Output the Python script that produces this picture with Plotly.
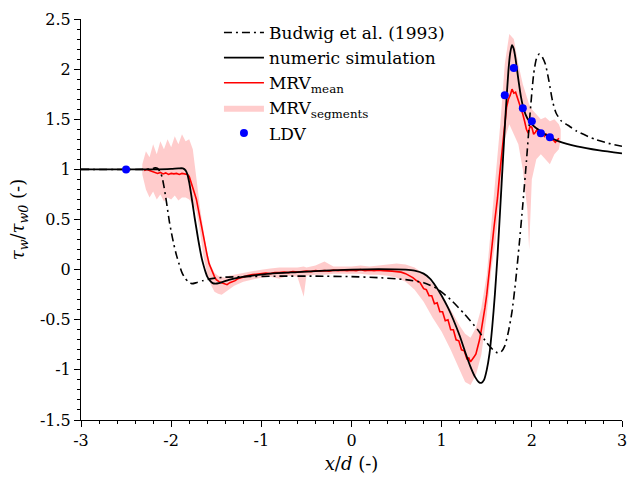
import plotly.graph_objects as go

# ---------------- data ----------------
budwig_x = [-3.0, -2.3, -2.22, -2.18, -2.15, -2.12, -2.10, -2.08, -2.06, -2.04, -2.02, -2.0, -1.97, -1.94,
            -1.91, -1.88, -1.85, -1.81, -1.77, -1.72, -1.65, -1.55, -1.4, -1.2, -0.8, -0.4, 0.0, 0.3, 0.6,
            0.8, 0.95, 1.1, 1.25, 1.4, 1.5, 1.57, 1.62, 1.66, 1.70, 1.74, 1.78, 1.82, 1.86, 1.90, 1.94,
            1.98, 2.02, 2.05, 2.08, 2.11, 2.15, 2.19, 2.23, 2.27, 2.33, 2.4, 2.5, 2.7, 2.85, 3.0]
budwig_y = [1.0, 1.0, 1.005, 1.015, 1.01, 0.97, 0.92, 0.83, 0.72, 0.60, 0.48, 0.38, 0.25, 0.14,
            0.05, -0.03, -0.08, -0.12, -0.14, -0.13, -0.11, -0.09, -0.075, -0.07, -0.065, -0.065, -0.07,
            -0.08, -0.10, -0.13, -0.19, -0.30, -0.44, -0.60, -0.73, -0.80, -0.83, -0.82, -0.76, -0.62,
            -0.42, -0.12, 0.25, 0.65, 1.08, 1.55, 1.95, 2.10, 2.15, 2.13, 2.05, 1.88, 1.68, 1.56, 1.48,
            1.44, 1.38, 1.30, 1.26, 1.23]

sim_x = [-3.0, -2.2, -2.0, -1.92, -1.87, -1.84, -1.82, -1.80, -1.78, -1.76, -1.74, -1.72, -1.70, -1.68,
         -1.66, -1.64, -1.62, -1.60, -1.57, -1.54, -1.51, -1.47, -1.42, -1.35, -1.25, -1.1, -0.9, -0.6,
         -0.3, 0.0, 0.3, 0.6, 0.7, 0.8, 0.87, 0.93, 1.0, 1.07, 1.13, 1.2, 1.26, 1.32, 1.37, 1.41, 1.44,
         1.47, 1.50, 1.53, 1.56, 1.59, 1.62, 1.65, 1.68, 1.71, 1.74, 1.76, 1.78, 1.80, 1.82, 1.85, 1.88,
         1.91, 1.95, 2.0, 2.05, 2.1, 2.2, 2.3, 2.5, 2.75, 3.0]
sim_y = [1.0, 1.0, 1.005, 1.01, 1.01, 0.99, 0.95, 0.87, 0.76, 0.64, 0.52, 0.41, 0.30, 0.20,
         0.11, 0.04, -0.02, -0.07, -0.11, -0.135, -0.14, -0.135, -0.12, -0.10, -0.08, -0.06, -0.04,
         -0.025, -0.01, 0.0, 0.005, 0.0, -0.01, -0.04, -0.09, -0.16, -0.26, -0.38, -0.50, -0.66, -0.82,
         -0.97, -1.07, -1.12, -1.13, -1.10, -1.00, -0.84, -0.58, -0.25, 0.15, 0.62, 1.10, 1.57, 1.98,
         2.16, 2.24, 2.20, 2.10, 1.90, 1.72, 1.60, 1.51, 1.45, 1.41, 1.38, 1.32, 1.28, 1.23, 1.19, 1.16]

mrv_x = [-2.30, -2.27, -2.24, -2.21, -2.18, -2.15, -2.12, -2.09, -2.06, -2.03, -2.00, -1.97, -1.94,
         -1.91, -1.88, -1.85, -1.82, -1.80, -1.78, -1.76, -1.74, -1.72, -1.70, -1.68, -1.66, -1.64,
         -1.62, -1.60, -1.58, -1.56, -1.54, -1.52, -1.50, -1.47, -1.44, -1.41, -1.38, -1.35, -1.32,
         -1.29, -1.26, -1.23, -1.20, -1.15, -1.10, -1.05, -1.00, -0.95, -0.90, -0.85, -0.80, -0.75,
         -0.70, -0.65, -0.60, -0.55, -0.50, -0.45, -0.40, -0.35, -0.30, -0.25, -0.20, -0.15, -0.10,
         -0.05, 0.00, 0.05, 0.10, 0.15, 0.20, 0.25, 0.30, 0.35, 0.40, 0.45, 0.50, 0.55, 0.60, 0.64,
         0.68, 0.72, 0.76, 0.80, 0.83, 0.86, 0.89, 0.92, 0.95, 0.98, 1.01, 1.04, 1.07, 1.10, 1.13,
         1.16, 1.19, 1.22, 1.25, 1.28, 1.30, 1.32, 1.34, 1.36, 1.38, 1.40, 1.42, 1.44, 1.46, 1.48,
         1.50, 1.52, 1.54, 1.56, 1.58, 1.60, 1.62, 1.64, 1.66, 1.68, 1.70, 1.72, 1.74, 1.76, 1.78,
         1.80, 1.82, 1.84, 1.86, 1.88, 1.90, 1.92, 1.94, 1.96, 1.98, 2.00, 2.02, 2.04, 2.06, 2.08,
         2.10, 2.12, 2.14, 2.16, 2.18, 2.20, 2.22, 2.24, 2.26, 2.28, 2.30]
mrv_y = [0.99, 1.00, 0.99, 0.98, 0.97, 0.96, 0.97, 0.955, 0.965, 0.95, 0.96, 0.955, 0.96,
         0.95, 0.96, 0.955, 0.95, 0.93, 0.88, 0.82, 0.76, 0.70, 0.60, 0.50, 0.42, 0.32,
         0.23, 0.14, 0.06, 0.01, -0.04, -0.07, -0.10, -0.12, -0.13, -0.14, -0.15, -0.13, -0.12,
         -0.11, -0.09, -0.08, -0.07, -0.06, -0.05, -0.045, -0.04, -0.035, -0.04, -0.03, -0.03, -0.025,
         -0.03, -0.02, -0.025, -0.02, -0.015, -0.02, -0.01, -0.015, -0.01, -0.015, -0.005, -0.01, -0.005,
         -0.01, -0.005, -0.01, 0.00, -0.01, -0.005, -0.01, -0.005, -0.01, -0.01, -0.015, -0.02, -0.025,
         -0.04, -0.06, -0.08, -0.11, -0.13, -0.19, -0.20, -0.26, -0.26, -0.34, -0.33, -0.42, -0.42,
         -0.51, -0.50, -0.60, -0.60, -0.70, -0.71, -0.80, -0.81, -0.89, -0.88, -0.92, -0.90, -0.87,
         -0.84, -0.78, -0.70, -0.60, -0.50, -0.38, -0.25, -0.10, 0.08, 0.25, 0.42, 0.56, 0.72, 0.92,
         1.10, 1.28, 1.45, 1.62, 1.70, 1.74, 1.80, 1.76, 1.77, 1.72, 1.66, 1.60, 1.55, 1.48, 1.40,
         1.36, 1.43, 1.42, 1.35, 1.37, 1.40, 1.34, 1.36, 1.37, 1.33, 1.35, 1.32, 1.31, 1.30, 1.29,
         1.27, 1.29, 1.31]

band_x = [-2.32, -2.28, -2.24, -2.20, -2.16, -2.12, -2.08, -2.04, -2.00, -1.96, -1.92, -1.88, -1.84,
          -1.80, -1.76, -1.72, -1.68, -1.64, -1.60, -1.56, -1.52, -1.48, -1.44, -1.40, -1.36, -1.30,
          -1.20, -1.10, -1.00, -0.90, -0.80, -0.70, -0.60, -0.53, -0.50, -0.40, -0.30, -0.20, -0.10,
          0.00, 0.10, 0.20, 0.30, 0.40, 0.50, 0.60, 0.70, 0.80, 0.90, 1.00, 1.10, 1.20, 1.26, 1.32,
          1.38, 1.44, 1.50, 1.55, 1.60, 1.65, 1.70, 1.75, 1.80, 1.85, 1.90, 1.95, 1.97, 2.00, 2.05,
          2.10, 2.15, 2.20, 2.25, 2.30, 2.32]
band_up = [1.05, 1.18, 1.12, 1.25, 1.15, 1.28, 1.20, 1.30, 1.22, 1.33, 1.25, 1.35, 1.28,
           1.30, 1.20, 0.90, 0.62, 0.38, 0.17, 0.04, -0.03, -0.06, -0.07, -0.08, -0.06, -0.05,
           -0.03, -0.02, 0.00, 0.01, 0.02, 0.02, 0.02, 0.03, 0.02, 0.04, 0.08, 0.03, 0.03,
           0.03, 0.04, 0.03, 0.04, 0.05, 0.06, 0.05, 0.02, -0.04, -0.14, -0.26, -0.40, -0.56, -0.64, -0.68,
           -0.58, -0.38, -0.05, 0.45, 0.95, 1.45, 2.05, 2.35, 2.30, 2.05, 1.85, 1.72, 1.65, 1.60, 1.55,
           1.50, 1.52, 1.48, 1.50, 1.45, 1.40]
band_lo = [0.95, 0.80, 0.72, 0.78, 0.70, 0.75, 0.68, 0.72, 0.70, 0.74, 0.69, 0.72, 0.72,
           0.70, 0.65, 0.58, 0.38, 0.12, -0.05, -0.15, -0.22, -0.24, -0.25, -0.22, -0.20, -0.16,
           -0.12, -0.10, -0.08, -0.07, -0.09, -0.06, -0.07, -0.27, -0.06, -0.05, -0.05, -0.04, -0.04,
           -0.04, -0.04, -0.05, -0.05, -0.06, -0.08, -0.12, -0.20, -0.32, -0.48, -0.62, -0.80, -1.00, -1.12, -1.15,
           -1.05, -0.85, -0.45, 0.00, 0.30, 0.80, 1.30, 1.45, 1.35, 1.25, 1.00, 0.60, 0.20, 0.90, 1.10,
           1.15, 1.10, 1.05, 1.15, 1.20, 1.30]

ldv_x = [-2.5, 1.7, 1.8, 1.9, 2.0, 2.1, 2.2]
ldv_y = [1.0, 1.74, 2.01, 1.61, 1.48, 1.36, 1.32]

x_ticks = [-3, -2, -1, 0, 1, 2, 3]
y_ticks = [-1.5, -1, -0.5, 0, 0.5, 1, 1.5, 2, 2.5]

# ---------------- figure ----------------
FONT = "DejaVu Serif"
fig = go.Figure()

fig.add_trace(go.Scatter(
    x=band_x + band_x[::-1], y=band_up + band_lo[::-1],
    fill="toself", fillcolor="rgba(255,0,0,0.2)", mode="lines",
    line=dict(width=0, color="rgba(255,0,0,0)"),
    name="MRV<sub>segments</sub>", legendrank=4, hoverinfo="skip"))

fig.add_trace(go.Scatter(
    x=mrv_x, y=mrv_y, mode="lines", line=dict(color="#ff0000", width=1.6),
    name="MRV<sub>mean</sub>", legendrank=3))

fig.add_trace(go.Scatter(
    x=budwig_x, y=budwig_y, mode="lines",
    line=dict(color="black", width=1.6, dash="8px,4px,2px,4px", shape="spline", smoothing=0.6),
    name="Budwig et al. (1993)", legendrank=1))

fig.add_trace(go.Scatter(
    x=sim_x, y=sim_y, mode="lines",
    line=dict(color="black", width=1.8, shape="spline", smoothing=0.6),
    name="numeric simulation", legendrank=2))

fig.add_trace(go.Scatter(
    x=ldv_x, y=ldv_y, mode="markers",
    marker=dict(color="#0000ff", size=8),
    name="LDV", legendrank=5))

axis_common = dict(
    showline=True, linecolor="black", linewidth=1, mirror=False,
    ticks="outside", ticklen=6, tickwidth=1, tickcolor="black",
    showgrid=False, zeroline=False, automargin=False,
    ticklabeloverflow="allow",
    tickfont=dict(family=FONT, size=16, color="black"),
)

fig.update_layout(
    width=627, height=489,
    margin=dict(l=81, r=5, t=19, b=69),
    paper_bgcolor="white", plot_bgcolor="white",
    font=dict(family=FONT, color="black"),
    xaxis=dict(range=[-3, 3], tickvals=x_ticks, ticktext=[str(v) for v in x_ticks],
               minor=dict(dtick=0.2, ticks="outside", ticklen=3, tickcolor="black"),
               title=dict(text="<i>x</i>/<i>d</i> (-)", font=dict(family=FONT, size=18), standoff=8),
               **axis_common),
    yaxis=dict(range=[-1.5, 2.5], tickvals=y_ticks, ticktext=[str(v) for v in y_ticks],
               minor=dict(dtick=0.1, ticks="outside", ticklen=3, tickcolor="black"),
               title=dict(text="<i>τ<sub>w</sub></i>/<i>τ<sub>w0</sub></i> (-)",
                          font=dict(family=FONT, size=18), standoff=10),
               **axis_common),
    legend=dict(x=0.255, y=1.01, xanchor="left", yanchor="top",
                bgcolor="rgba(0,0,0,0)", font=dict(family=FONT, size=17),
                tracegroupgap=0, itemwidth=40),
    showlegend=True,
)

fig.write_html("out.html", config={"displayModeBar": False},
               post_script="document.body.style.margin='0px';")
